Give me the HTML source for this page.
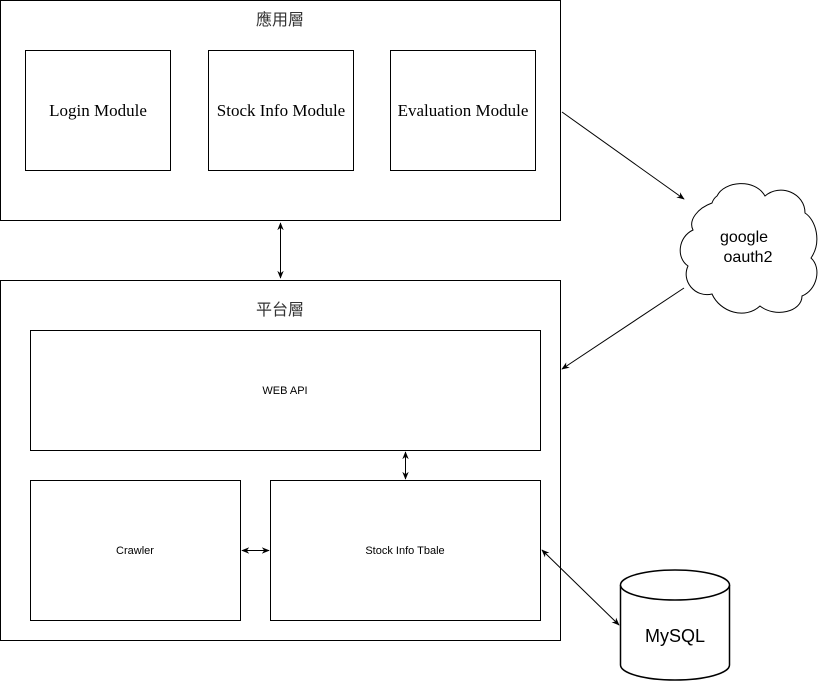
<!DOCTYPE html>
<html><head><meta charset="utf-8"><style>body{margin:0;background:#fff}svg{display:block}</style></head>
<body>
<svg width="824" height="682" xmlns="http://www.w3.org/2000/svg">
<defs>
<marker id="a" viewBox="0 0 10 10" refX="9" refY="5" markerWidth="8" markerHeight="8" orient="auto-start-reverse" markerUnits="userSpaceOnUse"><path d="M0,1 L10,5 L0,9 L3,5 Z" fill="#000"/></marker>
</defs>
<g fill="#fff" stroke="#000" stroke-width="1">
<rect x="0.5" y="0.5" width="560" height="220"/>
<rect x="25.5" y="50.5" width="145" height="120"/>
<rect x="208.5" y="50.5" width="145" height="120"/>
<rect x="390.5" y="50.5" width="145" height="120"/>
<rect x="0.5" y="280.5" width="560" height="360"/>
<rect x="30.5" y="330.5" width="510" height="120"/>
<rect x="30.5" y="480.5" width="210" height="140"/>
<rect x="270.5" y="480.5" width="270" height="140"/>
</g>
<g font-family="'Liberation Sans','Noto Sans CJK TC',sans-serif" font-size="16" fill="#333" text-anchor="middle">
<text x="280" y="25">應用層</text>
<text x="280" y="315">平台層</text>
</g>
<g font-family="'Liberation Serif',serif" font-size="17" fill="#000" text-anchor="middle">
<text x="98" y="116">Login Module</text>
<text x="281" y="116">Stock Info Module</text>
<text x="463" y="116">Evaluation Module</text>
</g>
<g font-family="'Liberation Sans',sans-serif" font-size="11" fill="#000" text-anchor="middle">
<text x="285" y="394">WEB API</text>
<text x="135" y="554">Crawler</text>
<text x="405" y="554">Stock Info Tbale</text>
</g>
<g stroke="#000" stroke-width="1" fill="none">
<line x1="280.5" y1="223" x2="280.5" y2="278" marker-start="url(#a)" marker-end="url(#a)"/>
<line x1="405.5" y1="452" x2="405.5" y2="479" marker-start="url(#a)" marker-end="url(#a)"/>
<line x1="242" y1="550.5" x2="269" y2="550.5" marker-start="url(#a)" marker-end="url(#a)"/>
<line x1="542" y1="550" x2="619" y2="625" marker-start="url(#a)" marker-end="url(#a)"/>
<line x1="562" y1="112" x2="684" y2="199" marker-end="url(#a)"/>
<line x1="684" y1="288" x2="562" y2="369" marker-end="url(#a)"/>
</g>
<path d="M712,203 C698,208 688,220 693,230 C678,237 676,258 688,266 C681,281 695,298 712,294 C720,312 745,320 760,306 C775,318 802,312 802,296 C817,290 822,268 811,258 C822,242 816,220 805,213 C805,193 780,183 765,196 C755,178 724,181 717,196 C714,198 713,200 712,203 Z" fill="#fff" stroke="#000"/>
<text x="744" y="242" font-family="'Liberation Sans',sans-serif" font-size="16" text-anchor="middle" fill="#000">google</text>
<text x="748" y="262" font-family="'Liberation Sans',sans-serif" font-size="16" text-anchor="middle" fill="#000">oauth2</text>
<path d="M620.5,585 L620.5,665 A54.5,15 0 0 0 729.5,665 L729.5,585" fill="#fff" stroke="#000" stroke-width="1.5"/>
<ellipse cx="675" cy="585" rx="54.5" ry="15" fill="#fff" stroke="#000" stroke-width="1.5"/>
<text x="675" y="642" font-family="'Liberation Sans',sans-serif" font-size="18" text-anchor="middle" fill="#000">MySQL</text>
</svg>
</body></html>
